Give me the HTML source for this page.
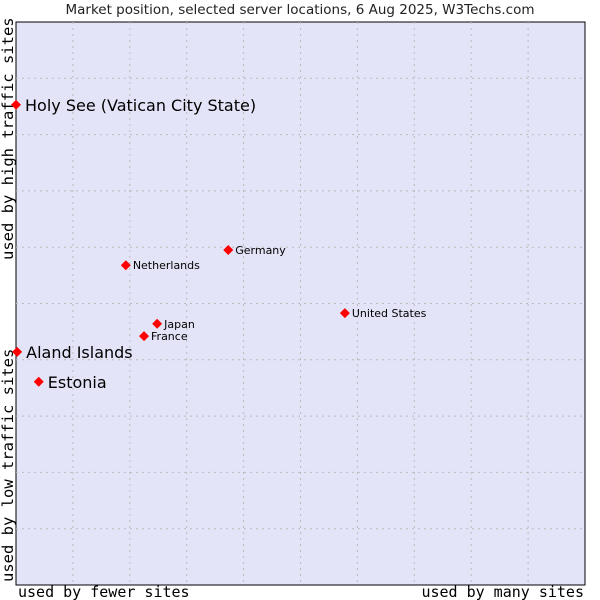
<!DOCTYPE html>
<html><head><meta charset="utf-8"><style>
body{margin:0;background:#fff;}
svg{display:block;}
</style></head><body>
<svg id="chart" width="600" height="600">
<rect x="0" y="0" width="600" height="600" fill="#fff"/>
<text x="300" y="14" text-anchor="middle" font-family="DejaVu Sans, Liberation Sans, sans-serif" font-size="13.5" fill="#222">Market position, selected server locations, 6 Aug 2025, W3Techs.com</text>
<rect x="16" y="22" width="569" height="563" fill="#e4e4f8" stroke="#000" stroke-width="1"/>
<g id="grid"></g>
<text x="18" y="597" font-family="DejaVu Sans Mono, Liberation Mono, monospace" font-size="15" fill="#000">used by fewer sites</text>
<text x="584" y="597" text-anchor="end" font-family="DejaVu Sans Mono, Liberation Mono, monospace" font-size="15" fill="#000">used by many sites</text>
<text transform="translate(13,582) rotate(-90)" font-family="DejaVu Sans Mono, Liberation Mono, monospace" font-size="15.5" fill="#000">used by low traffic sites</text>
<text transform="translate(13,260) rotate(-90)" font-family="DejaVu Sans Mono, Liberation Mono, monospace" font-size="15.5" fill="#000">used by high traffic sites</text>
<g id="points"></g>
</svg>
<script>
const names = ["Holy See (Vatican City State)","Aland Islands","Estonia","Netherlands","Germany","Japan","France","United States"];
const xVals = [0, 0.2, 4.0, 19.3, 37.3, 24.8, 22.5, 57.8];
const yVals = [85.3, 41.4, 36.1, 56.8, 59.5, 46.4, 44.2, 48.3];
const big = [true, true, true, false, false, false, false, false];
const L=16,T=22,W=569,H=563;
const xs=v=>L+v/100*W, ys=v=>T+H-v/100*H;
const NS="http://www.w3.org/2000/svg";
const grid=document.getElementById('grid');
for(let i=1;i<10;i++){
  const a=document.createElementNS(NS,'line');
  a.setAttribute('x1',xs(i*10));a.setAttribute('x2',xs(i*10));a.setAttribute('y1',T);a.setAttribute('y2',T+H);
  a.setAttribute('stroke','#bbb');a.setAttribute('stroke-dasharray','2,4');
  
  
  grid.appendChild(a);
  const b=document.createElementNS(NS,'line');
  b.setAttribute('y1',ys(i*10));b.setAttribute('y2',ys(i*10));b.setAttribute('x1',L);b.setAttribute('x2',L+W);
  b.setAttribute('stroke','#bbb');b.setAttribute('stroke-dasharray','2,4');
  
  
  grid.appendChild(b);
}
const pts=document.getElementById('points');
names.forEach((n,i)=>{
  const x=xs(xVals[i]),y=ys(yVals[i]);
  const d=document.createElementNS(NS,'path');
  d.setAttribute('d',`M${x} ${y-5}L${x+5} ${y}L${x} ${y+5}L${x-5} ${y}Z`);
  d.setAttribute('fill','#f00');
  
  
  pts.appendChild(d);
  const t=document.createElementNS(NS,'text');
  t.setAttribute('x',x+(big[i]?9:7));
  t.setAttribute('y',y+(big[i]?6:4));
  t.setAttribute('font-family','DejaVu Sans, Liberation Sans, sans-serif');
  t.setAttribute('font-size',big[i]?'16':'11');
  t.setAttribute('fill','#000');
  t.textContent=n;
  
  
  pts.appendChild(t);
});
</script>
</body></html>
